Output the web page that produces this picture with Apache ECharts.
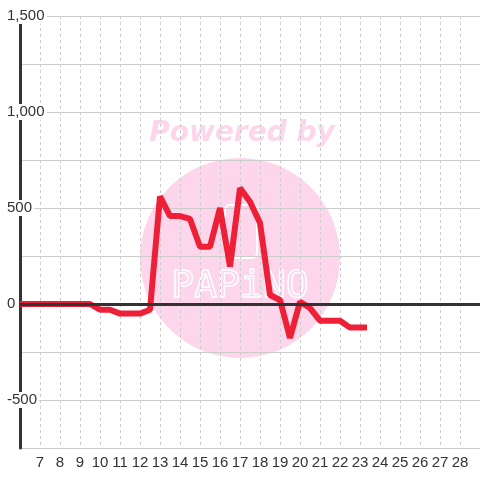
<!DOCTYPE html>
<html>
<head>
<meta charset="utf-8">
<script src="https://cdn.jsdelivr.net/npm/echarts@6/dist/echarts.min.js"></script>
<style>html,body{margin:0;padding:0;background:#fff}#c{width:480px;height:480px}</style>
</head>
<body>
<div id="c"></div>
<script>
var xValues = [6, 6.5, 7, 7.5, 8, 8.5, 9, 9.5, 10, 10.5, 11, 11.5, 12, 12.5, 13, 13.5, 14, 14.5, 15, 15.5, 16, 16.5, 17, 17.5, 18, 18.5, 19, 19.5, 20, 20.5, 21, 21.5, 22, 22.5, 23, 23.35];
var yValues = [0, 0, 0, 0, 0, 0, 0, 0, -30, -30, -50, -50, -50, -30, 560, 458, 458, 443, 298, 298, 500, 195, 604, 533, 422, 47, 21, -177, 12, -21, -87, -87, -87, -123, -123, -123];
var xRange = [6, 29];
var yRange = [-750, 1500];

var seriesData = xValues.map(function (x, i) { return [x, yValues[i]]; });
function fmt(v) {
  if (v % 500 !== 0) return '';
  var s = Math.abs(v).toString().replace(/\B(?=(\d{3})+(?!\d))/g, ',');
  return (v < 0 ? '-' : '') + s;
}
var font = 'Liberation Sans, Arial, sans-serif';
var chart = echarts.init(document.getElementById('c'));
chart.setOption({
  backgroundColor: '#ffffff',
  animation: false,
  grid: { left: 20, right: 0, top: 16, bottom: 32, containLabel: false },
  graphic: [
    { type: 'circle', z: -10, shape: { cx: 240, cy: 258, r: 100 }, style: { fill: '#fdd6ec' } },
    { type: 'text', z: -10, x: 242, y: 134, style: { text: 'Powered by', fill: '#fdd6ec', font: 'italic bold 28px "DejaVu Sans", sans-serif', textAlign: 'center', textVerticalAlign: 'middle' } },
    { type: 'rect', z: -9, shape: { x: 225, y: 205, width: 32, height: 53, r: 5 }, style: { fill: 'none', stroke: '#ffffff', lineWidth: 2 } },
    { type: 'text', z: -9, x: 240, y: 287, style: { text: 'PAPiNO', fill: 'none', stroke: '#ffffff', lineWidth: 1.5, font: '300 38px "DejaVu Sans Mono", monospace', textAlign: 'center', textVerticalAlign: 'middle' } }
  ],
  xAxis: {
    type: 'value', min: xRange[0], max: xRange[1], interval: 1,
    axisLine: { show: false },
    axisTick: { show: false },
    axisLabel: { showMinLabel: false, showMaxLabel: false, color: '#333', fontSize: 15, fontFamily: font, margin: 7 },
    splitLine: { show: true, lineStyle: { color: '#cccccc', width: 1, type: [3, 3] } }
  },
  yAxis: {
    type: 'value', min: yRange[0], max: yRange[1], interval: 250,
    axisLine: { show: true, lineStyle: { color: '#333', width: 3 } },
    axisTick: { show: false },
    axisLabel: {
      formatter: fmt, align: 'left', margin: 14, color: '#333', fontSize: 15, fontFamily: font,
      lineHeight: 14, backgroundColor: '#ffffff', padding: [1, 2, 1, 1]
    },
    splitLine: { show: true, lineStyle: { color: '#cccccc', width: 1 } }
  },
  series: [
    {
      type: 'line', data: [], z: 1, silent: true,
      markLine: { silent: true, symbol: 'none', label: { show: false }, lineStyle: { color: '#333', width: 3, type: 'solid' }, data: [{ yAxis: 0 }] }
    },
    {
      type: 'line', data: seriesData, z: 3, showSymbol: false, symbol: 'none',
      lineStyle: { color: '#ee2038', width: 6 }
    }
  ]
});
</script>
</body>
</html>
